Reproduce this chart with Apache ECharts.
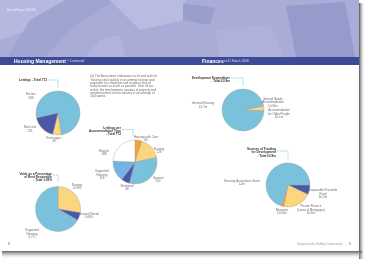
<!DOCTYPE html>
<html><head><meta charset="utf-8">
<script src="https://cdn.jsdelivr.net/npm/echarts@6/dist/echarts.min.js"></script>
<style>html,body{margin:0;padding:0;background:#fff}#c{width:373px;height:272px}</style>
</head><body><div id="c"></div>
<script>
// ---- data ----
const lettingsTitle = 'Lettings - Total 772';
const lettingsCats = ['Re-lets', 'Exchanges', 'New Lets'];
const lettingsVals = [589, 48, 135];

const accomTitle = 'Lettings per\nAccommodation Type\n- Total 772';
const accomCats = ['Housing with Care', 'Nursing', 'General', 'Sheltered', 'Supported\nHousing', 'Hostels'];
const accomVals = [40, 128, 250, 48, 118, 188];

const voidTitle = 'Voids as a Percentage\nof Rent Receivable\n- Total 1.05%';
const voidCats = ['Nursing', 'General Needs', 'Supported\nHousing'];
const voidVals = [0.29, 0.06, 0.70];

const devTitle = 'Development Expenditure\n- Total £2.8m';
const devCats = ['Special Needs\nAccommodation', 'Accommodation\nfor Older People', 'General Housing'];
const devVals = [0.01, 0.1, 2.7];

const fundTitle = 'Sources of Funding\nfor Development\n- Total £2.8m';
const fundCats = ['Disposable Proceeds\nFund', 'Private Finance\n(Loans & Mortgages)', 'Reserves', 'Housing Association Grant'];
const fundVals = [0.2, 0.6, 0.05, 2.0];

const paragraph = '(iii) The Association endeavours to let and re-let its housing stock quickly in an attempt to keep void properties to a minimum and to reduce loss of rental income as much as possible. Over all our re-lets, the time between vacation of property and commencement of new tenancy is an average of 4.04 weeks.';

// ---- layout (label anchor positions, page px) ----
const labelPos = [
  [[31, 96], [54, 139.5], [30, 129]],
  [[146, 138.5], [159, 150.5], [158, 179.5], [127, 187.5], [102, 175], [104, 152.5]],
  [[77, 186.5], [89, 215.5], [32, 234]],
  [[273, 102.5], [279, 114], [203, 105]],
  [[323, 194], [311, 210], [282, 211.5], [242, 182.5]]
];

// ---- styles ----
const FONT = '"Liberation Sans", Arial, sans-serif';
const LB = '#7ac2db', DB = '#4b58a8', YE = '#fcd67e', OR = '#f4a431', MB = '#72b4e3', WH = '#ffffff';

function pie(idx, cats, vals, colors, center, r, startAngle, fmt) {
  return {
    type: 'pie', center: center, radius: r, startAngle: startAngle, clockwise: true,
    avoidLabelOverlap: false, animation: false, silent: true,
    label: { show: true, position: 'outside', formatter: fmt, fontSize: 3, lineHeight: 3.5,
             color: '#6d6d6d', fontFamily: FONT, align: 'center' },
    labelLine: { show: false, length: 3, length2: 1 },
    labelLayout: function (p) {
      const q = labelPos[idx][p.dataIndex];
      return { x: q[0], y: q[1], align: 'center', verticalAlign: 'middle' };
    },
    itemStyle: { borderColor: '#9c9c9c', borderWidth: 0.4 },
    emphasis: { disabled: true },
    data: cats.map((c, i) => ({ name: c, value: vals[i], itemStyle: { color: colors[i] } }))
  };
}

const cyan = '#66c6df';
function connector(x0, y, cx, yEnd) {
  return [
    { type: 'circle', shape: { cx: x0, cy: y, r: 0.7 }, style: { fill: cyan } },
    { type: 'polyline', shape: { points: [[x0 + 2, y], [cx, y], [cx, yEnd]] },
      style: { stroke: cyan, lineWidth: 0.5, fill: null } }
  ];
}
function title(text, x, y) {
  return { type: 'text', x: x, y: y, style: { text: text, fontSize: 3.1, lineHeight: 3.4, fontWeight: 'bold',
    fill: '#333', align: 'right', verticalAlign: 'top', fontFamily: FONT } };
}

const graphics = [
  // shadows
  { type: 'rect', shape: { x: 359, y: 3, width: 6, height: 256 },
    style: { fill: new echarts.graphic.LinearGradient(0, 0, 1, 0, [{ offset: 0, color: '#4e4e4e' }, { offset: 1, color: 'rgba(255,255,255,0)' }]) } },
  { type: 'rect', shape: { x: 2, y: 251, width: 360, height: 8 },
    style: { fill: new echarts.graphic.LinearGradient(0, 0, 0, 1, [{ offset: 0, color: '#5e5e5e' }, { offset: 1, color: 'rgba(255,255,255,0)' }]) } },
  // page
  { type: 'rect', shape: { x: 0, y: 0, width: 359, height: 251 }, style: { fill: '#ffffff' } },
  // header artwork
  { type: 'rect', shape: { x: 0, y: 0, width: 359, height: 57 }, style: { fill: '#a9acd7' } },
  { type: 'polygon', shape: { points: [[0, 0], [70, 0], [40, 25], [0, 40]] }, style: { fill: '#b5b8df' } },
  { type: 'polygon', shape: { points: [[8, 57], [30, 20], [65, 0], [115, 0], [70, 30], [45, 57]] }, style: { fill: '#a0a4d1' } },
  { type: 'polygon', shape: { points: [[110, 0], [185, 0], [185, 20], [140, 30]] }, style: { fill: '#b9bce1' } },
  { type: 'polygon', shape: { points: [[85, 57], [100, 40], [120, 35], [125, 57]] }, style: { fill: '#b1b4dc' } },
  { type: 'polygon', shape: { points: [[183, 3], [215, 8], [210, 25], [183, 20]] }, style: { fill: '#9a9ecd' } },
  { type: 'polygon', shape: { points: [[286, 6], [345, 2], [355, 57], [296, 57]] }, style: { fill: '#979bcc' } },
  { type: 'polygon', shape: { points: [[215, 30], [270, 25], [285, 57], [220, 57]] }, style: { fill: '#aeb1da' } },
  // banner
  { type: 'rect', shape: { x: 0, y: 57, width: 359, height: 8 }, style: { fill: '#3c4a97' } },
  { type: 'text', x: 7, y: 10, style: { text: 'Annual Report 2007/08', fontSize: 2.8, fill: '#eef', fontFamily: FONT, verticalAlign: 'middle' } },
  { type: 'text', x: 14, y: 61.3, style: { text: 'Housing Management', fontSize: 5, fontWeight: 'bold', fill: '#fff', fontFamily: FONT, verticalAlign: 'middle' } },
  { type: 'text', x: 67, y: 61.6, style: { text: '» Continued', fontSize: 3.2, fill: '#dde', fontFamily: FONT, verticalAlign: 'middle' } },
  { type: 'text', x: 202, y: 61.3, style: { text: 'Finances', fontSize: 5, fontWeight: 'bold', fill: '#fff', fontFamily: FONT, verticalAlign: 'middle' } },
  { type: 'text', x: 224, y: 61.6, style: { text: 'at 31 March 2008', fontSize: 3.2, fill: '#dde', fontFamily: FONT, verticalAlign: 'middle' } },
  // paragraph
  { type: 'text', x: 90, y: 75, style: { text: paragraph, width: 68, overflow: 'break', fontSize: 3, lineHeight: 3.3, fill: '#6a6a6a', fontFamily: FONT } },
  // titles
  title(lettingsTitle, 47, 78.5),
  title(accomTitle, 121, 126),
  title(voidTitle, 52, 172),
  title(devTitle, 230, 76.5),
  title(fundTitle, 276, 147.5),
  ...connector(49, 80, 58, 88),
  ...connector(123, 129.5, 133, 136),
  ...connector(54, 175, 58, 182),
  ...connector(232, 78, 243, 86),
  ...connector(278, 151, 288, 159),
  // footer
  { type: 'text', x: 8, y: 244, style: { text: '8', fontSize: 3, fill: '#3c4a97', fontFamily: FONT, verticalAlign: 'middle' } },
  { type: 'text', x: 343, y: 244, style: { text: 'Supporting the Building Communities', fontSize: 2.8, fill: '#a0a0a0', fontFamily: FONT, align: 'right', verticalAlign: 'middle' } },
  { type: 'text', x: 349, y: 244, style: { text: '9', fontSize: 3, fill: '#3c4a97', fontFamily: FONT, verticalAlign: 'middle' } }
];

const chart = echarts.init(document.getElementById('c'), null, { renderer: 'canvas' });
chart.setOption({
  backgroundColor: '#ffffff',
  animation: false,
  graphic: graphics,
  series: [
    pie(0, lettingsCats, lettingsVals, [LB, YE, DB], [58, 113], 22, 193, '{b}\n{c}'),
    pie(1, accomCats, accomVals, [OR, YE, LB, DB, MB, WH], [135, 162], 22, 90, '{b}\n{c}'),
    pie(2, voidCats, voidVals, [YE, DB, LB], [58, 209], 22.5, 90, '{b}\n{c}%'),
    pie(3, devCats, devVals, [OR, YE, LB], [243, 110], 21, 12, '{b}\n£{c}m'),
    pie(4, fundCats, fundVals, [DB, YE, OR, LB], [288, 185], 22, 0, '{b}\n£{c}m')
  ]
});
</script>
</body></html>
